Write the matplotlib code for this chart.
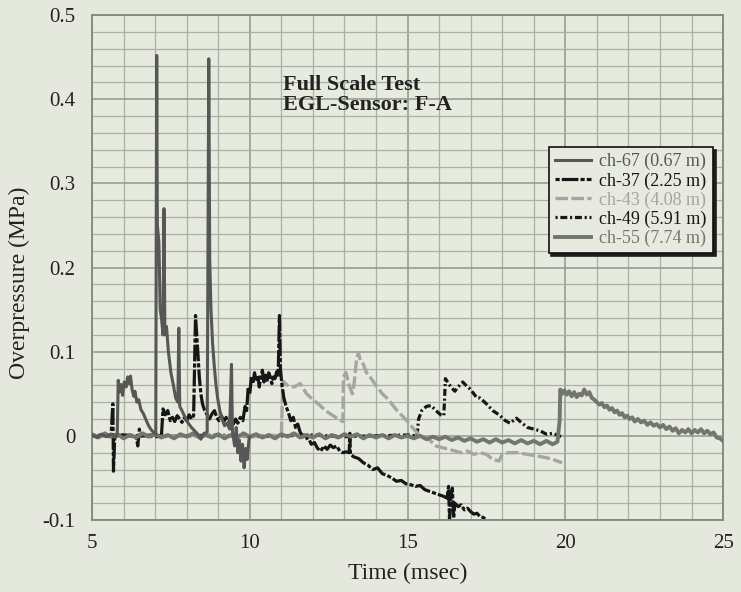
import matplotlib
matplotlib.use('Agg')
import matplotlib.pyplot as plt
from matplotlib.ticker import MultipleLocator

plt.rcParams['font.family'] = ['Liberation Serif', 'DejaVu Serif']
plt.rcParams['lines.scale_dashes'] = False

# ---- data (time in msec, overpressure in MPa) ----
ch67_t = [5.0, 5.15, 5.3, 5.45, 5.6, 5.75, 5.8, 5.83, 5.87, 5.92, 5.97, 6.02, 6.08, 6.13,
          6.18, 6.22, 6.27, 6.32, 6.36, 6.42, 6.48, 6.55, 6.62, 6.7, 6.78, 6.86, 6.95, 7.02,
          7.05, 7.07, 7.12, 7.16, 7.2, 7.25, 7.28, 7.31, 7.36, 7.42, 7.5, 7.58, 7.65, 7.72,
          7.75, 7.78, 7.85, 7.95, 8.05, 8.15, 8.25, 8.35, 8.45, 8.55, 8.65, 8.7, 8.73, 8.77,
          8.82, 8.87, 8.93, 8.98, 9.05, 9.12, 9.2, 9.28, 9.36, 9.42, 9.45, 9.52, 9.57, 9.62,
          9.67, 9.72, 9.77, 9.82, 9.87, 9.92, 9.97, 10.0]
ch67_v = [0.001, -0.002, 0.002, -0.001, 0.002, -0.002, 0.003, 0.066, 0.052, 0.061, 0.048, 0.064, 0.058, 0.070,
          0.062, 0.071, 0.055, 0.047, 0.053, 0.040, 0.043, 0.031, 0.027, 0.020, 0.013, 0.008, 0.004, 0.002,
          0.452, 0.250, 0.230, 0.150, 0.140, 0.120, 0.270, 0.120, 0.130, 0.100, 0.075, 0.060, 0.045, 0.040,
          0.128, 0.035, 0.030, 0.022, 0.015, 0.010, 0.006, 0.002, -0.004, 0.003, 0.004, 0.448, 0.210, 0.150,
          0.110, 0.085, 0.060, 0.045, 0.030, 0.020, 0.012, 0.015, 0.008, 0.085, 0.005, -0.012, 0.010, -0.020,
          -0.005, -0.030, -0.010, -0.038, -0.015, -0.028, -0.005, -0.002]

ch37_t = [5.0, 5.3, 5.6, 5.66, 5.68, 5.72, 6.0, 6.4, 6.45, 6.5, 6.55, 6.9, 7.2, 7.25, 7.32,
          7.4, 7.48, 7.55, 7.62, 7.7, 7.78, 7.85, 7.93, 8.0, 8.08, 8.15, 8.22, 8.28, 8.32,
          8.36, 8.4, 8.45, 8.5, 8.57, 8.65, 8.72, 8.8, 8.88, 8.95, 9.02, 9.1, 9.18, 9.25,
          9.32, 9.4, 9.48, 9.55, 9.62, 9.7, 9.78, 9.85, 9.9, 9.95, 10.0, 10.05, 10.1, 10.15,
          10.2, 10.25, 10.3, 10.35, 10.4, 10.45, 10.5, 10.55, 10.6, 10.65, 10.7, 10.75, 10.8,
          10.85, 10.9, 10.94, 10.97, 11.02, 11.08, 11.15, 11.22, 11.3, 11.38, 11.45, 11.52,
          11.6, 11.68, 11.76, 11.85, 11.95, 12.05, 12.15, 12.25, 12.35, 12.45, 12.55, 12.65,
          12.75, 12.85, 12.95, 13.05, 13.15, 13.17, 13.19, 13.3, 13.45, 13.6, 13.75, 13.9,
          14.05, 14.2, 14.35, 14.5, 14.65, 14.8, 14.95, 15.1, 15.25, 15.4, 15.55, 15.7, 15.85,
          16.0, 16.15, 16.25, 16.3, 16.33, 16.37, 16.42, 16.46, 16.5, 16.6, 16.7, 16.8, 16.9,
          17.0, 17.1, 17.2, 17.3, 17.4, 17.5]
ch37_v = [0.0, 0.001, -0.001, 0.038, -0.042, 0.0, 0.001, -0.001, -0.012, 0.008, 0.0, 0.001, 0.0, 0.032, 0.025,
          0.030, 0.018, 0.022, 0.017, 0.024, 0.020, 0.016, 0.022, 0.018, 0.025, 0.020, 0.024, 0.143, 0.120,
          0.095, 0.070, 0.050, 0.038, 0.030, 0.025, 0.020, 0.026, 0.030, 0.022, 0.018, 0.024, 0.017, 0.022,
          0.016, 0.020, 0.014, 0.020, 0.015, 0.022, 0.018, 0.035, 0.030, 0.058, 0.050, 0.070, 0.062, 0.075,
          0.065, 0.072, 0.058, 0.070, 0.078, 0.064, 0.072, 0.066, 0.075, 0.070, 0.062, 0.070, 0.068,
          0.076, 0.072, 0.143, 0.080, 0.060, 0.045, 0.035, 0.028, 0.018, 0.022, 0.010, 0.014,
          0.004, 0.0, -0.004, -0.002, -0.010, -0.008, -0.015, -0.018, -0.012, -0.016, -0.011, -0.014,
          -0.012, -0.018, -0.020, -0.019, -0.020, 0.003, -0.022, -0.025, -0.027, -0.032, -0.035, -0.040,
          -0.038, -0.045, -0.047, -0.050, -0.054, -0.053, -0.057, -0.058, -0.060, -0.059, -0.064, -0.066, -0.068,
          -0.070, -0.072, -0.074, -0.060, -0.100, -0.075, -0.062, -0.098, -0.080, -0.084, -0.082, -0.088, -0.086,
          -0.090, -0.093, -0.092, -0.096, -0.097, -0.100]

ch43_t = [5.0, 5.5, 6.0, 6.5, 7.0, 7.5, 8.0, 8.5, 9.0, 9.5, 10.0, 10.5, 11.0, 11.05, 11.2,
          11.4, 11.6, 11.8, 12.0, 12.2, 12.4, 12.6, 12.8, 12.95, 12.97, 13.05, 13.15, 13.25,
          13.3, 13.38, 13.44, 13.5, 13.6, 13.7, 13.85, 14.0, 14.2, 14.4, 14.6, 14.8, 15.0,
          15.2, 15.35, 15.5, 15.7, 15.9, 16.1, 16.3, 16.5, 16.7, 16.9, 17.1, 17.3, 17.5, 17.7,
          17.9, 18.0, 18.2, 18.5, 18.8, 19.1, 19.4, 19.6, 19.9]
ch43_v = [0.001, -0.001, 0.001, -0.001, 0.001, -0.001, 0.0, 0.001, -0.001, 0.001, -0.001, 0.001, 0.0, 0.065, 0.060,
          0.058, 0.062, 0.050, 0.043, 0.037, 0.030, 0.025, 0.020, 0.017, 0.070, 0.075, 0.060, 0.050,
          0.060, 0.090, 0.099, 0.090, 0.085, 0.075, 0.068, 0.060, 0.050, 0.043, 0.033, 0.025, 0.017,
          0.008, 0.002, -0.002, -0.005, -0.012, -0.014, -0.016, -0.018, -0.020, -0.018, -0.022, -0.020, -0.022, -0.028,
          -0.030, -0.022, -0.020, -0.020, -0.022, -0.024, -0.026, -0.028, -0.032]

ch49_t = [5.0, 6.0, 7.0, 8.0, 9.0, 10.0, 11.0, 12.0, 13.0, 14.0, 15.0, 15.3, 15.35, 15.45,
          15.6, 15.75, 15.9, 16.05, 16.15, 16.2, 16.3, 16.4, 16.5, 16.6, 16.75, 16.85, 17.0,
          17.2, 17.3, 17.5, 17.7, 17.9, 18.1, 18.25, 18.45, 18.6, 18.8, 19.0, 19.2, 19.4,
          19.6, 19.8, 19.95]
ch49_v = [0.0, 0.001, -0.001, 0.0, 0.001, -0.001, 0.0, 0.001, -0.001, 0.0, 0.001, 0.0, 0.020, 0.030,
          0.035, 0.036, 0.030, 0.025, 0.024, 0.068, 0.062, 0.057, 0.053, 0.058, 0.064, 0.060, 0.055,
          0.045, 0.045, 0.038, 0.030, 0.025, 0.018, 0.015, 0.021, 0.016, 0.010, 0.008, 0.006, 0.002,
          0.003, 0.0, -0.002]

ch55_t = [5.0, 5.2, 5.4, 5.6, 5.8, 6.0, 6.2, 6.4, 6.6, 6.8, 7.0, 7.2, 7.4, 7.6, 7.8, 8.0,
          8.2, 8.4, 8.6, 8.8, 9.0, 9.2, 9.4, 9.6, 9.8, 10.0, 10.2, 10.4, 10.6, 10.8, 11.0,
          11.2, 11.4, 11.6, 11.8, 12.0, 12.2, 12.4, 12.6, 12.8, 13.0, 13.2, 13.4, 13.6, 13.8,
          14.0, 14.2, 14.4, 14.6, 14.8, 15.0, 15.2, 15.4, 15.6, 15.8, 16.0, 16.2, 16.4, 16.6,
          16.8, 17.0, 17.2, 17.4, 17.6, 17.8, 18.0, 18.2, 18.4, 18.6, 18.8, 19.0, 19.2, 19.4,
          19.6, 19.75, 19.82, 19.84, 19.9, 19.97, 20.05, 20.12, 20.2, 20.28, 20.36, 20.44,
          20.52, 20.6, 20.68, 20.76, 20.84, 20.92, 21.0, 21.08, 21.16, 21.24, 21.32, 21.4,
          21.48, 21.56, 21.64, 21.72, 21.8, 21.88, 21.96, 22.04, 22.12, 22.2, 22.3, 22.4,
          22.5, 22.6, 22.7, 22.8, 22.9, 23.0, 23.1, 23.2, 23.3, 23.4, 23.5, 23.6, 23.7, 23.8,
          23.9, 24.0, 24.1, 24.2, 24.3, 24.4, 24.5, 24.6, 24.7, 24.8, 24.9, 25.0]
ch55_v = [0.002, -0.002, 0.003, -0.001, 0.002, -0.003, 0.001, -0.002, 0.003, -0.001, 0.002, -0.002, 0.001, -0.003, 0.002, -0.001,
          0.003, -0.002, 0.001, -0.002, 0.002, -0.003, 0.001, -0.002, 0.003, -0.001, 0.002, -0.002, 0.001, -0.003, 0.002,
          -0.001, 0.003, -0.002, 0.001, -0.002, 0.002, -0.003, 0.001, -0.002, 0.002, -0.001, 0.002, -0.003, 0.001,
          -0.002, 0.001, -0.003, 0.001, -0.002, 0.0, -0.003, 0.0, -0.004, -0.001, -0.004, -0.001, -0.005, -0.002,
          -0.006, -0.003, -0.007, -0.004, -0.008, -0.004, -0.008, -0.005, -0.009, -0.005, -0.009, -0.006, -0.010, -0.006,
          -0.010, -0.007, 0.018, 0.055, 0.050, 0.054, 0.049, 0.053, 0.047, 0.052, 0.046, 0.050,
          0.048, 0.055, 0.049, 0.052, 0.045, 0.043, 0.040, 0.037, 0.039, 0.034, 0.036, 0.031,
          0.033, 0.028, 0.030, 0.025, 0.027, 0.022, 0.024, 0.020, 0.022, 0.017, 0.020, 0.016,
          0.018, 0.013, 0.016, 0.012, 0.014, 0.010, 0.013, 0.008, 0.011, 0.006, 0.009, 0.003, 0.007, 0.004,
          0.008, 0.003, 0.007, 0.004, 0.008, 0.003, 0.006, 0.002, 0.004, -0.002, -0.003, -0.006]

series_names = ['ch-67 (0.67 m)', 'ch-37 (2.25 m)', 'ch-43 (4.08 m)', 'ch-49 (5.91 m)', 'ch-55 (7.74 m)']
y_ticks = [-0.1, 0, 0.1, 0.2, 0.3, 0.4, 0.5]
y_ticklabels = ['-0.1', '0', '0.1', '0.2', '0.3', '0.4', '0.5']
x_ticks = [5, 10, 15, 20, 25]

paper = '#e4e8dd'
fig = plt.figure(figsize=(7.41, 5.92), dpi=100)
fig.patch.set_facecolor(paper)
ax = fig.add_axes([0.1242, 0.1216, 0.8516, 0.8530])
ax.set_facecolor('#e6eadf')

l49, = ax.plot(ch49_t, ch49_v, color='#161616', lw=2.3, dashes=(1.5, 2, 5, 2), zorder=2)
l43, = ax.plot(ch43_t, ch43_v, color='#a4a69f', lw=2.4, dashes=(9, 2.5), zorder=2)
l37, = ax.plot(ch37_t, ch37_v, color='#161616', lw=2.3, dashes=(3, 1.5, 12, 1.5), zorder=2)
l55, = ax.plot(ch55_t, ch55_v, color='#73756f', lw=2.8, zorder=3)
l67, = ax.plot(ch67_t, ch67_v, color='#575855', lw=2.2, zorder=4)

ax.set_xlim(5, 25)
ax.set_ylim(-0.1, 0.5)
ax.set_xticks(x_ticks)
ax.set_yticks(y_ticks, y_ticklabels)
ax.xaxis.set_minor_locator(MultipleLocator(1))
ax.yaxis.set_minor_locator(MultipleLocator(0.02))
ax.grid(which='minor', color='#a8b1a3', lw=0.9)
ax.grid(which='major', color='#8e988b', lw=1.1)
ax.set_axisbelow(True)
ax.tick_params(which='both', length=0, labelsize=15, colors='#222222')
ax.tick_params(axis='y', pad=12)
ax.tick_params(axis='x', pad=10)
for sp in ax.spines.values():
    sp.set_color('#7f897c')
    sp.set_linewidth(1.3)

ax.set_xlabel('Time (msec)', fontsize=17, color='#222222')
ax.set_ylabel('Overpressure (MPa)', fontsize=17, color='#222222')
ax.xaxis.set_label_coords(0.5, -0.085)
ax.yaxis.set_label_coords(-0.098, 0.47)

ax.text(11.05, 0.405, 'Full Scale Test\nEGL-Sensor: F-A', fontsize=16, fontweight='bold',
        ha='left', va='center', linespacing=1.0, color='#222222')

leg = ax.legend([l67, l37, l43, l49, l55], series_names, loc='upper right',
                bbox_to_anchor=(0.984, 0.739), borderaxespad=0, fontsize=13,
                frameon=True, fancybox=False, facecolor='#e6eadf', edgecolor='#111111',
                framealpha=1, handlelength=2.0, handletextpad=0.45, labelspacing=0.1,
                borderpad=0.35, shadow={'color': '#1e1e1e', 'alpha': 1.0, 'ox': 2, 'oy': -2})
leg.get_frame().set_linewidth(1.2)
for txt, ln in zip(leg.get_texts(), [l67, l37, l43, l49, l55]):
    txt.set_color(ln.get_color())

fig.savefig('out.png', dpi=100, facecolor=paper)
